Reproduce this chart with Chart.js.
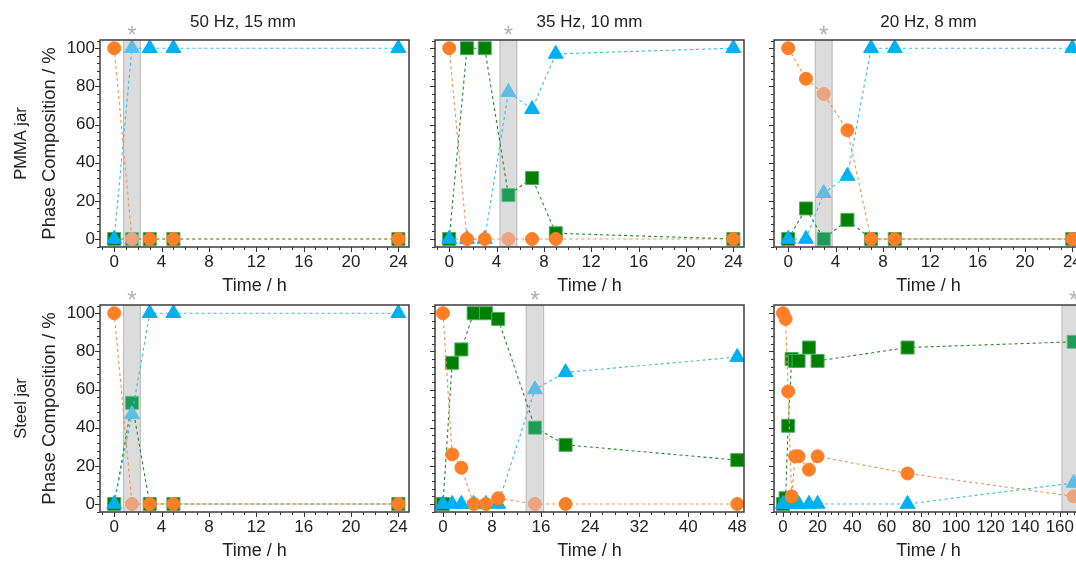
<!DOCTYPE html>
<html>
<head>
<meta charset="utf-8">
<script src="https://cdn.jsdelivr.net/npm/chart.js@4.4.1/dist/chart.umd.min.js"></script>
<style>
  html, body { margin: 0; padding: 0; background: #fff; overflow: hidden; }
  body { width: 1076px; height: 561px; position: relative; }
  canvas { position: absolute; }
</style>
</head>
<body>
<script>
// sampling times (h)
const hours50 = [0, 1.5, 3, 5, 24];
const hoursPmma = [0, 1.5, 3, 5, 7, 9, 24];
const hoursSteel35 = [0, 1.5, 3, 5, 7, 9, 15, 20, 48];
const hoursSteel20 = [0, 1.5, 3, 5, 7, 9, 15, 20, 72, 168];

// phase composition in % (orange circles, green squares, blue triangles)
const pmma50Start = [100, 0, 0, 0, 0];
const pmma50Inter = [0, 0, 0, 0, 0];
const pmma50Final = [0, 100, 100, 100, 100];

const pmma35Start = [100, 0, 0, 0, 0, 0, 0];
const pmma35Inter = [0, 100, 100, 23, 32, 3, 0];
const pmma35Final = [0, 0, 0, 77, 68, 97, 100];

const pmma20Start = [100, 84, 76, 57, 0, 0, 0];
const pmma20Inter = [0, 16, 0, 10, 0, 0, 0];
const pmma20Final = [0, 0, 24, 33, 100, 100, 100];

const steel50Start = [100, 0, 0, 0, 0];
const steel50Inter = [0, 53, 0, 0, 0];
const steel50Final = [0, 47, 100, 100, 100];

const steel35Start = [100, 26, 19, 0, 0, 3, 0, 0, 0];
const steel35Inter = [0, 74, 81, 100, 100, 97, 40, 31, 23];
const steel35Final = [0, 0, 0, 0, 0, 0, 60, 69, 77];

const steel20Start = [100, 97, 59, 4, 25, 25, 18, 25, 16, 4];
const steel20Inter = [0, 3, 41, 76, 75, 75, 82, 75, 82, 85];
const steel20Final = [0, 0, 0, 0, 0, 0, 0, 0, 0, 11];

// time marked with an asterisk in each panel
const markedHours = [1.5, 5, 3, 1.5, 15, 168];

const xTicks24 = [0, 4, 8, 12, 16, 20, 24];
const xTicks48 = [0, 8, 16, 24, 32, 40, 48];
const xTicks168 = [0, 20, 40, 60, 80, 100, 120, 140, 160];
const yTicks = [0, 20, 40, 60, 80, 100];

const colTitles = ['50 Hz, 15 mm', '35 Hz, 10 mm', '20 Hz, 8 mm'];
const rowLabels = ['PMMA jar', 'Steel jar'];

Chart.defaults.font.family = '"Liberation Sans", Arial, sans-serif';
Chart.defaults.color = '#222';

// layout of the frames on the page
const frameLefts = [100, 435, 774];
const frameTops = [40, 305];
const frameW = 309, frameH = 207;
const padLeft = [100, 40, 40];
const padRight = [77, 40, 40];
const padTop = 40, padBottom = 50;

const looks = [
  {color: '#FF7F27', line: '#F98F4A', faded: '#EBA47F', border: '#FF7F27', faded2: '#EBA47F', style: 'circle', r: 6.5},
  {color: '#00B0F0', line: '#33BDF0', faded: '#5DBDE3', border: '#00B0F0', faded2: '#5DBDE3', style: 'triangle', r: 8.6},
  {color: '#007F00', line: '#1F8A2A', faded: '#1E9B5A', border: '#4DAF61', faded2: '#5FBF80', style: 'rect', r: 9.2}
];

const panels = [
  {row: 0, col: 0, hours: hours50, series: [pmma50Start, pmma50Final, pmma50Inter], xTicks: xTicks24, xMin: -1.2, xMax: 24.9, xMinor: 1, xMajor: 4, half: 0.75},
  {row: 0, col: 1, hours: hoursPmma, series: [pmma35Start, pmma35Final, pmma35Inter], xTicks: xTicks24, xMin: -1.2, xMax: 24.9, xMinor: 1, xMajor: 4, half: 0.75},
  {row: 0, col: 2, hours: hoursPmma, series: [pmma20Start, pmma20Final, pmma20Inter], xTicks: xTicks24, xMin: -1.2, xMax: 24.9, xMinor: 1, xMajor: 4, half: 0.75},
  {row: 1, col: 0, hours: hours50, series: [steel50Start, steel50Final, steel50Inter], xTicks: xTicks24, xMin: -1.2, xMax: 24.9, xMinor: 1, xMajor: 4, half: 0.75},
  {row: 1, col: 1, hours: hoursSteel35, series: [steel35Start, steel35Final, steel35Inter], xTicks: xTicks48, xMin: -1.3, xMax: 49.1, xMinor: 2, xMajor: 8, half: 1.5},
  {row: 1, col: 2, hours: hoursSteel20, series: [steel20Start, steel20Final, steel20Inter], xTicks: xTicks168, xMin: -5.2, xMax: 173.4, xMinor: 4, xMajor: 20, half: 7}
];

function stepValues(min, max, step) {
  const out = [];
  for (let k = Math.ceil(min / step - 1e-9); k * step <= max + 1e-9; k++) out.push(k * step);
  return out;
}
function isMajor(v, major) {
  return Math.abs(v / major - Math.round(v / major)) < 1e-6;
}

const decor = {
  id: 'decor',
  beforeDatasetsDraw(chart, args, o) {
    const {ctx, chartArea: a} = chart;
    const xs = chart.scales.x;
    const l = Math.max(xs.getPixelForValue(o.mark - o.half), a.left);
    const r = Math.min(xs.getPixelForValue(o.mark + o.half), a.right);
    ctx.save();
    ctx.fillStyle = '#DCDCDC';
    ctx.fillRect(l, a.top, r - l, a.bottom - a.top);
    ctx.strokeStyle = '#BBBBBB';
    ctx.lineWidth = 1;
    ctx.beginPath();
    ctx.moveTo(l + 0.5, a.top); ctx.lineTo(l + 0.5, a.bottom);
    if (r < a.right) { ctx.moveTo(r - 0.5, a.top); ctx.lineTo(r - 0.5, a.bottom); }
    ctx.stroke();
    ctx.restore();
  },
  afterDraw(chart, args, o) {
    const {ctx, chartArea: a} = chart;
    const xs = chart.scales.x, ys = chart.scales.y;
    ctx.save();
    ctx.strokeStyle = '#333';
    ctx.lineWidth = 1;
    ctx.beginPath();
    stepValues(ys.min, ys.max, o.yMinor).forEach(v => {
      const p = Math.round(ys.getPixelForValue(v)) + 0.5;
      const len = isMajor(v, o.yMajor) ? 5 : 3;
      ctx.moveTo(a.left, p); ctx.lineTo(a.left - len, p);
    });
    stepValues(xs.min, xs.max, o.xMinor).forEach(v => {
      const p = Math.round(xs.getPixelForValue(v)) + 0.5;
      const len = isMajor(v, o.xMajor) ? 5 : 3;
      ctx.moveTo(p, a.bottom); ctx.lineTo(p, a.bottom + len);
    });
    ctx.stroke();
    ctx.strokeStyle = '#3C3C3C';
    ctx.lineWidth = 1.5;
    ctx.strokeRect(a.left, a.top, a.right - a.left, a.bottom - a.top);
    ctx.fillStyle = '#B0B0B0';
    ctx.font = '24px "Liberation Sans", Arial, sans-serif';
    ctx.textAlign = 'center';
    ctx.textBaseline = 'alphabetic';
    ctx.fillText('*', xs.getPixelForValue(o.mark), a.top + 3);
    ctx.restore();
  }
};

function makeChart(p, idx) {
  const {row, col} = p;
  const canvas = document.createElement('canvas');
  canvas.width = padLeft[col] + frameW + padRight[col];
  canvas.height = padTop + frameH + padBottom;
  canvas.style.left = (frameLefts[col] - padLeft[col]) + 'px';
  canvas.style.top = (frameTops[row] - padTop) + 'px';
  document.body.appendChild(canvas);

  const mark = markedHours[idx];
  const inBand = v => Math.abs(v - mark) <= p.half;

  const datasets = p.series.map((vals, i) => {
    const lk = looks[i];
    return {
      data: p.hours.map((h, j) => ({x: h, y: vals[j]})),
      showLine: true,
      borderColor: lk.line,
      borderWidth: 1.1,
      borderDash: [3, 3],
      pointStyle: lk.style,
      pointRadius: lk.r,
      pointBorderWidth: 1,
      pointBackgroundColor: c => inBand(c.raw.x) ? lk.faded : lk.color,
      pointBorderColor: c => inBand(c.raw.x) ? lk.faded2 : lk.border
    };
  });

  const scales = {
    x: {
      type: 'linear', position: 'bottom', min: p.xMin, max: p.xMax, bounds: 'data',
      afterBuildTicks: s => { s.ticks = p.xTicks.map(v => ({value: v})); },
      afterFit: s => { s.height = padBottom; },
      ticks: {autoSkip: false, maxRotation: 0, padding: 5, font: {size: 17}, color: '#222'},
      grid: {display: false, drawTicks: false},
      border: {display: false},
      title: {display: true, text: 'Time / h', font: {size: 18}, color: '#222', padding: {top: 0, bottom: 0}}
    },
    y: {
      type: 'linear', position: 'left', min: -4.2, max: 104.3, bounds: 'data',
      afterBuildTicks: s => { s.ticks = yTicks.map(v => ({value: v})); },
      afterFit: s => { s.width = col === 0 ? 72 : padLeft[col]; },
      ticks: {display: col === 0, padding: 5, font: {size: 17}, color: '#222'},
      grid: {display: false, drawTicks: false},
      border: {display: false},
      title: {display: col === 0, text: 'Phase Composition / %', font: {size: 18.5}, color: '#222', padding: {top: 11, bottom: 0}}
    },
    spare: {
      type: 'linear', position: 'right', min: 0, max: 1,
      afterFit: s => { s.width = padRight[col]; },
      ticks: {display: false},
      grid: {display: false, drawTicks: false},
      border: {display: false}
    }
  };
  if (col === 0) {
    scales.jar = {
      type: 'linear', position: 'left', weight: 1, min: 0, max: 1,
      afterFit: s => { s.width = 28; },
      ticks: {display: false},
      grid: {display: false, drawTicks: false},
      border: {display: false},
      title: {display: true, text: rowLabels[row], font: {size: 16.5}, color: '#222', padding: {top: 12, bottom: 0}}
    };
  }

  return new Chart(canvas, {
    type: 'scatter',
    data: {datasets: datasets},
    options: {
      responsive: false,
      animation: false,
      devicePixelRatio: 1,
      events: [],
      layout: {padding: {top: row === 0 ? 0 : padTop, left: 0, right: 0, bottom: 0}},
      scales: scales,
      plugins: {
        legend: {display: false},
        tooltip: {enabled: false},
        title: {display: row === 0, text: colTitles[col], font: {size: 17, weight: 'normal'}, color: '#222', padding: {top: 12, bottom: 7.6}},
        decor: {mark: mark, half: p.half, xMinor: p.xMinor, xMajor: p.xMajor, yMinor: 4, yMajor: 20}
      }
    },
    plugins: [decor]
  });
}

panels.forEach(makeChart);
</script>
</body>
</html>
